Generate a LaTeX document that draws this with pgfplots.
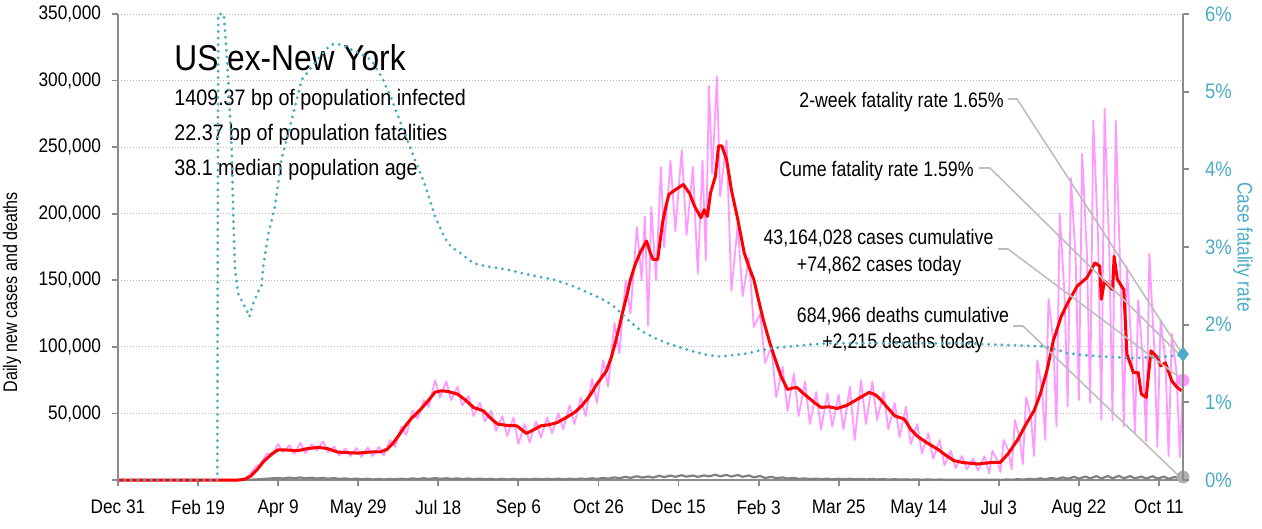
\documentclass[border=0pt]{standalone}
\usepackage{pgfplots}
\pgfplotsset{compat=1.18}
\usepackage{fontspec}
\setmainfont{Liberation Sans}[FakeStretch=0.88]
\newfontfamily\condfont{Liberation Sans}[FakeStretch=0.82]
\newfontfamily\annfont{Liberation Sans}[FakeStretch=0.845]
\definecolor{pinkc}{RGB}{255,153,255}
\definecolor{redc}{RGB}{255,0,0}
\definecolor{tealc}{RGB}{75,172,198}
\definecolor{axisgrey}{RGB}{140,140,140}
\definecolor{gridgrey}{RGB}{185,185,185}
\definecolor{deathgrey}{RGB}{128,128,128}
\definecolor{connc}{RGB}{190,190,190}
\definecolor{markgrey}{RGB}{175,175,175}

\pgfplotstableread{
d v
0 0
70 0
75 300
79 1000
82 3500
86 10000
89 12000
93 20000
96 18000
100 27000
103 21000
107 26000
110 19500
114 28000
117 20000
121 27000
124 22000
128 29000
131 21000
135 25000
138 18500
142 23500
145 18000
149 24000
152 17500
156 24500
159 18000
163 25000
166 18500
170 30000
173 25000
177 40000
180 34000
184 52000
187 46000
191 60000
194 55000
198 75000
201 62000
205 74000
208 60000
212 70000
215 56000
219 63000
222 48000
226 58000
229 44000
233 52000
236 37000
240 48000
243 33000
247 47000
250 27000
254 42000
257 28000
261 44000
264 32000
268 47000
271 35000
275 50000
278 38000
282 56000
285 42000
289 62000
292 48000
296 76000
299 58000
303 90000
306 70000
310 118000
313 95000
317 150000
320 125000
324 190000
327 150000
329 198000
331 116000
333 205000
336 150000
339 235000
341 175000
345 240000
348 187000
352 248000
355 184000
359 235000
362 155000
365 240000
367 165000
369 296000
371 230000
374 303000
376 213000
380 255000
383 142000
387 192000
390 138000
394 167000
397 115000
401 125000
404 88000
408 100000
411 62000
415 85000
418 52000
422 80000
425 48000
429 74000
432 42000
436 66000
439 38000
443 65000
446 40000
450 64000
453 38000
457 70000
460 30000
464 75000
467 42000
471 74000
474 45000
478 66000
481 38000
485 58000
488 32000
492 55000
495 27000
499 42000
502 20000
506 35000
509 16000
513 30000
516 11000
520 22000
523 9000
527 18000
530 8000
534 16000
537 7000
541 18000
544 5000
546 22000
549 15000
551 6000
553 30000
556 22000
558 8000
560 45000
563 32000
565 12000
567 62000
570 48000
572 18000
574 90000
577 68000
579 30000
581 136000
584 105000
586 40000
588 200000
591 140000
593 55000
595 227000
598 165000
600 60000
602 245000
605 170000
607 58000
609 270000
612 180000
614 45000
616 279000
619 170000
621 45000
623 270000
626 150000
628 40000
630 160000
633 95000
635 35000
637 135000
640 90000
642 29000
644 170000
647 100000
649 25000
651 120000
654 90000
656 18000
658 110000
661 80000
663 17000
665 74862
}\dailycases

\pgfplotstableread{
d v
0 0
40 0
75 0
79 500
83 3000
87 8000
91 14000
96 19500
100 22700
106 22500
112 22000
118 23500
125 24500
131 23500
137 21000
144 20500
150 20200
157 21000
164 21200
168 23000
172 28000
175 33000
179 40000
183 46000
189 53000
194 60000
198 66000
202 67000
206 66500
212 64500
217 60000
222 54500
228 52000
233 46000
237 42000
243 41000
249 40700
255 35000
260 38000
264 40700
269 41500
274 43000
280 47000
285 50700
289 55000
293 60700
296 66000
299 72000
302 77000
305 82000
308 92000
310 100700
313 115000
315 125700
318 140000
320 150700
323 162000
326 170700
330 179500
332 172000
334 165700
337 165700
340 193000
342 205000
344 214500
348 218000
353 222000
357 215000
360 205700
364 197000
366 203000
368 198000
370 215700
373 228000
375 251000
377 251000
380 240700
383 218000
387 195700
391 170700
394 160000
397 150700
400 135000
403 120000
407 103000
410 92000
414 78000
418 68000
421 69000
424 69500
427 66000
430 63000
435 58000
439 54500
444 55000
449 53700
455 56000
460 59500
465 63000
469 65800
473 64000
476 60700
480 55000
485 48200
491 45700
495 38000
499 33000
505 28000
512 23000
517 18500
522 14500
528 13000
533 12500
537 12000
544 13000
551 13300
556 20000
562 30700
567 42000
572 52000
576 65000
580 82000
584 104500
589 123000
593 133000
599 145700
605 152000
610 163000
613 160700
614 135700
616 149500
621 143000
622 168000
624 150700
628 143000
630 94500
634 80700
637 80700
639 64500
642 62000
645 97000
649 92000
651 85700
654 88000
658 74500
661 70000
664 67000
}\avgcases

\pgfplotstableread{
d v
0 0
70 0
79 100
86 400
93 1000
100 1500
103 1100
107 1800
110 1300
114 1900
117 1200
121 1700
124 1100
128 1600
131 1000
135 1400
138 800
142 1200
145 700
149 1000
152 500
156 900
159 400
163 800
166 400
170 800
173 500
177 1000
180 600
184 1200
187 700
191 1300
194 800
198 1400
201 900
205 1300
208 800
212 1200
215 700
219 1100
222 600
226 1000
229 500
233 900
236 400
240 900
243 400
247 800
250 400
254 800
257 400
261 900
264 500
268 900
271 500
275 1000
278 500
282 1000
285 600
289 1100
292 700
296 1300
299 800
303 1600
306 1000
310 2000
313 1300
317 2400
320 1600
324 2800
327 1800
331 2600
334 1800
338 3200
341 2200
345 3300
348 2400
352 3600
355 2500
359 3400
362 2300
366 3500
369 2700
373 4000
376 2800
380 3800
383 2600
387 3800
390 2400
394 3400
397 2000
401 3000
404 1500
408 2400
411 1300
415 2000
418 1000
422 1600
425 800
429 1200
432 700
436 1000
439 600
443 1000
446 500
450 900
453 500
457 900
460 500
464 800
467 400
471 800
474 400
478 700
481 300
485 600
488 300
492 500
495 250
499 450
502 200
506 400
509 200
513 350
516 150
520 300
523 150
527 300
530 150
534 250
537 100
541 250
544 100
548 300
551 80
555 400
558 200
562 600
565 300
569 900
572 400
576 1200
579 500
583 1600
586 700
590 2000
593 900
597 2400
600 1000
604 2600
607 1200
611 2900
614 1100
618 3000
621 1300
625 3100
628 1300
632 2900
635 1200
639 2600
642 1100
646 2800
649 1000
653 2500
656 900
660 2300
663 800
665 2215
}\deaths

\pgfplotstableread{
d v
0 0
62 0
62.6 6
64.6 6
66 6
67.5 5.6
69 5.1
71 4.25
72 3.4
73 2.74
75 2.4
78 2.28
80 2.2
82 2.1
84 2.25
86 2.35
88 2.45
89.6 2.49
90.6 2.74
94 3.18
98 3.52
102 4.12
108 4.6
114.6 5.15
123 5.37
130 5.55
135 5.62
140 5.6
146 5.54
152 5.48
158 5.41
164.6 5.19
170 4.95
175 4.68
183 4.25
192 3.78
198 3.39
204 3.12
208 3.0
214 2.92
222 2.79
230 2.75
237 2.73
245 2.7
253 2.66
262 2.62
272 2.58
285 2.49
297 2.38
305 2.3
310 2.23
318 2.07
326 1.93
335 1.83
343 1.76
352 1.7
360 1.65
368 1.61
376 1.59
385 1.61
393 1.63
401 1.67
410 1.70
420 1.72
430 1.74
443 1.76
460 1.76
480 1.76
505 1.76
530 1.76
551 1.74
565 1.73
578 1.72
586 1.68
593 1.63
603 1.61
614 1.59
624 1.58
634 1.57
645 1.58
655 1.59
665 1.61
}\cfr

\begin{document}
\begin{tikzpicture}
\useasboundingbox (-59bp,-24.5bp) rectangle (572bp,240bp);
\begin{axis}[
  at={(0,0)}, anchor=south west,
  width=532.5bp, height=233bp, scale only axis,
  xmin=0, xmax=665, ymin=0, ymax=350000,
  axis x line*=bottom, axis y line*=left,
  axis line style={draw=axisgrey, line width=1bp},
  tick align=outside, major tick length=3bp,
  tick style={draw=axisgrey, line width=0.9bp},
  xtick={0,50,...,650},
  xticklabels={Dec 31,Feb 19,Apr 9,May 29,Jul 18,Sep 6,Oct 26,Dec 15,Feb 3,Mar 25,May 14,Jul 3,Aug 22,Oct 11},
  ytick={0,50000,100000,150000,200000,250000,300000,350000},
  yticklabels={,{50,000},{100,000},{150,000},{200,000},{250,000},{300,000},{350,000}},
  ymajorgrids,
  major grid style={draw=gridgrey, line width=0.5bp, dash pattern=on 0.5bp off 1bp},
  ticklabel style={font=\fontsize{9.8bp}{12bp}\selectfont, text=black},
  xticklabel style={yshift=-3.5bp},
  yticklabel style={xshift=-2bp},
  ylabel={Daily new cases and deaths},
  ylabel style={font=\condfont\fontsize{9.8bp}{12bp}\selectfont, at={(axis description cs:-0.0995,0.403)}, anchor=center},
  clip=false,
]
\addplot[pinkc, line width=0.9bp, line join=round] table[x=d,y=v] {\dailycases};
\addplot[deathgrey, line width=1.1bp, line join=round] table[x=d,y=v] {\deaths};
\addplot[redc, line width=1.5bp, line join=round] table[x=d,y=v] {\avgcases};

\node[anchor=base west, inner sep=0pt, font=\fontsize{18bp}{21bp}\selectfont] at (rel axis cs:0.0526,0.878) {US ex-New York};
\node[anchor=base west, inner sep=0pt, font=\fontsize{11.2bp}{13bp}\selectfont] at (rel axis cs:0.0526,0.8026) {1409.37 bp of population infected};
\node[anchor=base west, inner sep=0pt, font=\fontsize{11.2bp}{13bp}\selectfont] at (rel axis cs:0.0526,0.7296) {22.37 bp of population fatalities};
\node[anchor=base west, inner sep=0pt, font=\fontsize{11.2bp}{13bp}\selectfont] at (rel axis cs:0.0526,0.6545) {38.1 median population age};

\node[anchor=base east, inner sep=0pt, font=\annfont\fontsize{10.5bp}{12bp}\selectfont] at (rel axis cs:0.8319,0.7983) {2-week fatality rate 1.65\%};
\node[anchor=base east, inner sep=0pt, font=\annfont\fontsize{10.5bp}{12bp}\selectfont] at (rel axis cs:0.8038,0.6509) {Cume fatality rate 1.59\%};
\node[anchor=base, inner sep=0pt, font=\annfont\fontsize{10.5bp}{12bp}\selectfont] at (rel axis cs:0.7141,0.5064) {43,164,028 cases cumulative};
\node[anchor=base, inner sep=0pt, font=\annfont\fontsize{10.5bp}{12bp}\selectfont] at (rel axis cs:0.7146,0.4485) {+74,862 cases today};
\node[anchor=base, inner sep=0pt, font=\annfont\fontsize{10.5bp}{12bp}\selectfont] at (rel axis cs:0.7371,0.3376) {684,966 deaths cumulative};
\node[anchor=base, inner sep=0pt, font=\annfont\fontsize{10.5bp}{12bp}\selectfont] at (rel axis cs:0.7371,0.2826) {+2,215 deaths today};

\draw[connc, line width=0.8bp] (rel axis cs:0.8357,0.8176) -- (rel axis cs:0.8441,0.8176) -- (rel axis cs:1.0,0.2682);
\draw[connc, line width=0.8bp] (rel axis cs:0.8085,0.6695) -- (rel axis cs:0.8188,0.6695) -- (rel axis cs:1.0,0.2618);
\draw[connc, line width=0.8bp] (rel axis cs:0.8263,0.4957) -- (rel axis cs:0.8357,0.4957) -- (rel axis cs:1.0,0.2146);
\draw[connc, line width=0.8bp] (rel axis cs:0.8404,0.3305) -- (rel axis cs:0.8498,0.3305) -- (rel axis cs:1.0,0.0);

\addplot[only marks, mark=*, mark size=3bp, draw=pinkc, fill=pinkc] coordinates {(665,74862)};
\addplot[only marks, mark=*, mark size=3bp, draw=markgrey, fill=markgrey] coordinates {(665,2215)};
\end{axis}

\begin{axis}[
  at={(0,0)}, anchor=south west,
  width=532.5bp, height=233bp, scale only axis,
  xmin=0, xmax=665, ymin=0, ymax=6,
  axis x line=none, axis y line*=right,
  axis line style={draw=axisgrey, line width=1bp},
  tick align=outside, major tick length=3bp,
  tick style={draw=axisgrey, line width=0.9bp},
  ytick={0,1,2,3,4,5,6},
  yticklabels={0\%,1\%,2\%,3\%,4\%,5\%,6\%},
  yticklabel style={font=\fontsize{10.5bp}{12bp}\selectfont, text=tealc, xshift=4.5bp},
  ylabel={Case fatality rate},
  ylabel style={font=\condfont\fontsize{10.5bp}{12bp}\selectfont, text=tealc, rotate=180, at={(axis description cs:1.0563,0.5)}, anchor=center},
  clip=false,
]
\addplot[tealc, line width=1.6bp, line cap=round, dash pattern=on 0bp off 3.3bp] table[x=d,y=v] {\cfr};
\addplot[only marks, mark=diamond*, mark size=3.5bp, draw=tealc, fill=tealc] coordinates {(665,1.62)};
\end{axis}
\end{tikzpicture}
\end{document}
